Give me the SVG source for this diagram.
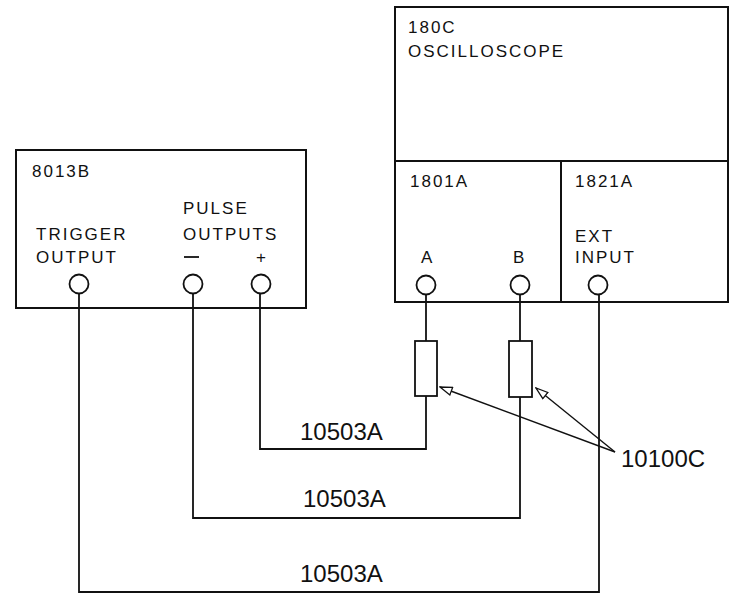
<svg xmlns="http://www.w3.org/2000/svg" width="735" height="602" viewBox="0 0 735 602">
<style>
.box{fill:none;stroke:#111;stroke-width:2}
.w{fill:none;stroke:#111;stroke-width:1.8}
.jack{fill:#fff;stroke:#111;stroke-width:1.8}
.t{font-family:"Liberation Sans",Arial,sans-serif;font-size:17px;letter-spacing:2px;fill:#111}
.big{font-family:"Liberation Sans",Arial,sans-serif;font-size:24px;fill:#111}
.res{fill:#fff;stroke:#111;stroke-width:1.8}
.ptr{fill:none;stroke:#111;stroke-width:1.4}
</style>
<defs>
<marker id="ah" markerWidth="14" markerHeight="10" refX="13" refY="5" orient="auto" markerUnits="userSpaceOnUse">
<path d="M1,1 L13,5 L1,9 Z" fill="#fff" stroke="#111" stroke-width="1.3"/>
</marker>
</defs>
<rect width="735" height="602" fill="#fff"/>

<g id="connectors">
<path class="w" d="M260,293 V449 H426 V396"/>
<path class="w" d="M193,293 V518 H520 V397"/>
<path class="w" d="M79,293 V592 H599 V294"/>
<path class="w" d="M426,294 V341"/>
<path class="w" d="M520,294 V341"/>
<text class="big" x="300" y="440">10503A</text>
<text class="big" x="303" y="507">10503A</text>
<text class="big" x="300" y="582">10503A</text>
</g>

<g id="gen8013B">
<rect class="box" x="16" y="150" width="290" height="158"/>
<text class="t" x="32" y="177">8013B</text>
<text class="t" x="183" y="214">PULSE</text>
<text class="t" x="36" y="240">TRIGGER</text>
<text class="t" x="183" y="240">OUTPUTS</text>
<text class="t" x="36" y="263">OUTPUT</text>
<line x1="184" y1="257" x2="199" y2="257" stroke="#111" stroke-width="1.8"/>
<text class="t" x="256" y="263">+</text>
<circle class="jack" cx="79" cy="284" r="9.5"/>
<circle class="jack" cx="193" cy="284" r="9.5"/>
<circle class="jack" cx="261" cy="284" r="9.5"/>
</g>

<g id="osc180C">
<rect class="box" x="395" y="7" width="333" height="295"/>
<line x1="395" y1="161" x2="728" y2="161" stroke="#111" stroke-width="2"/>
<text class="t" x="408" y="33">180C</text>
<text class="t" x="408" y="57">OSCILLOSCOPE</text>
</g>

<g id="amp1801A">
<line x1="561" y1="161" x2="561" y2="302" stroke="#111" stroke-width="2"/>
<text class="t" x="410" y="187">1801A</text>
<text class="t" x="421" y="263">A</text>
<text class="t" x="513" y="263">B</text>
<circle class="jack" cx="426" cy="285" r="9.5"/>
<circle class="jack" cx="520" cy="285" r="9.5"/>
</g>

<g id="trig1821A">
<text class="t" x="575" y="187">1821A</text>
<text class="t" x="575" y="242">EXT</text>
<text class="t" x="575" y="263">INPUT</text>
<circle class="jack" cx="598" cy="285" r="9.5"/>
</g>

<g id="probeA">
<rect class="res" x="415" y="341" width="22" height="55"/>
</g>
<g id="probeB">
<rect class="res" x="509" y="341" width="23" height="56"/>
</g>

<g id="label10100C">
<path class="ptr" d="M615,452 L440,387" marker-end="url(#ah)"/>
<path class="ptr" d="M615,452 L536,388" marker-end="url(#ah)"/>
<text class="big" x="621" y="467">10100C</text>
</g>
</svg>
